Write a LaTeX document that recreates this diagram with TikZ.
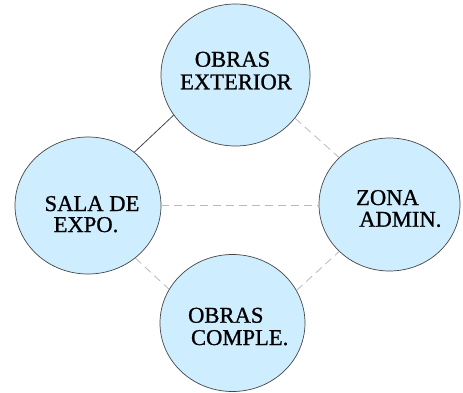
\documentclass[tikz,border=0pt]{standalone}
\usepackage{fontspec}
\setmainfont{Liberation Serif}
\newfontface\heavyserif{Liberation Serif}[FakeBold=0.9]
\usetikzlibrary{shapes.geometric}
\definecolor{bubblefill}{RGB}{206,238,255}
\definecolor{bubbleline}{RGB}{70,70,70}
\definecolor{dashgray}{RGB}{185,185,185}
\begin{document}
\begin{tikzpicture}[x=1pt,y=-1pt,
  bubble/.style={ellipse,draw=bubbleline,fill=bubblefill,line width=0.7pt,inner sep=0pt},
  lbl/.style={anchor=base,inner sep=0pt,font=\heavyserif\fontsize{22.6}{22.6}\selectfont,text=black},
  solidlink/.style={draw=bubbleline,line width=0.8pt},
  dashlink/.style={draw=dashgray,line width=0.8pt,dash pattern=on 8pt off 5pt}]
\useasboundingbox (0,0) rectangle (463,392);
\node[bubble,minimum width=149pt,minimum height=142pt] (ext) at (235.5,75) {};
\node[bubble,minimum width=146pt,minimum height=137pt] (sala) at (88,205.5) {};
\node[bubble,minimum width=141pt,minimum height=133pt] (zona) at (389.5,204.5) {};
\node[bubble,minimum width=145pt,minimum height=137pt] (comp) at (232.5,323) {};
\draw[solidlink] (ext.213.5) -- (sala.49.7);
\draw[dashlink] (ext.-36) -- (zona.137.3);
\draw[dashlink] (sala.east) -- (sala.east -| zona.west);
\draw[dashlink] (sala.-48.7) -- (comp.152.2);
\draw[dashlink] (comp.27.8) -- (zona.223.3);
\node[lbl] (ext1) at (232.5,66.7) {OBRAS};
\node[lbl] (ext2) at (236,89.3) {EXTERIOR};
\node[lbl] (sala1) at (92,211) {SALA DE};
\node[lbl] (sala2) at (86,232) {EXPO.};
\node[lbl] (zona1) at (387.5,205) {ZONA};
\node[lbl] (zona2) at (400.3,226.7) {ADMIN.};
\node[lbl] (comp1) at (225.8,322.7) {OBRAS};
\node[lbl] (comp2) at (239.7,345) {COMPLE.};
\end{tikzpicture}
\end{document}
